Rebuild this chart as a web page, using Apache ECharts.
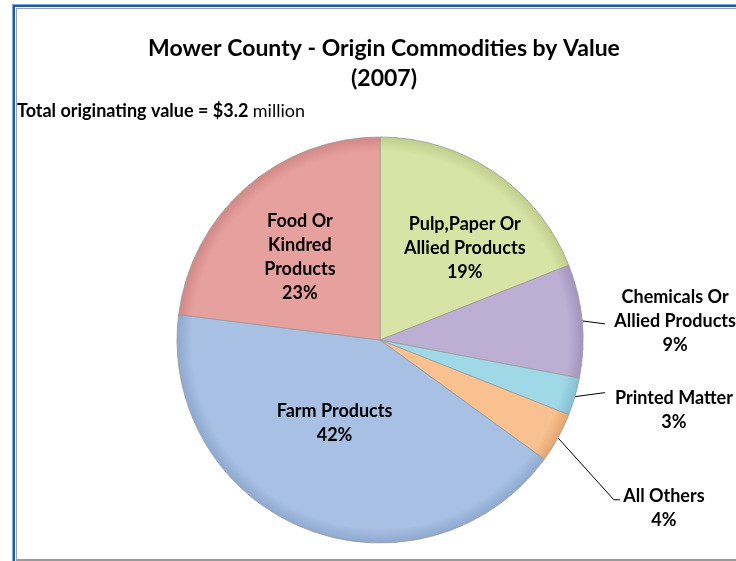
<!DOCTYPE html>
<html>
<head>
<meta charset="utf-8">
<script src="https://cdn.jsdelivr.net/npm/echarts@6/dist/echarts.min.js"></script>
<style>
  html, body { margin: 0; padding: 0; background: #ffffff; }
  #wrap { position: relative; width: 736px; height: 561px; overflow: hidden; }
  #frameOuter {
    position: absolute; left: 12px; top: 4px; width: 800px; height: 600px;
    border-left: 1px solid #7fa6d6; border-top: 1px solid #7fa6d6;
  }
  #frameBlue {
    position: absolute; left: 13px; top: 5px; width: 800px; height: 600px;
    border-left: 2px solid #1f5aa6; border-top: 2px solid #1f5aa6;
  }
  #frameInner {
    position: absolute; left: 16px; top: 8px; width: 800px; height: 550px;
    border-left: 1px solid #a0a0a0; border-top: 1px solid #a0a0a0; border-bottom: 2px solid #9a9a9a;
  }
  #chart { position: absolute; left: 0; top: 0; width: 736px; height: 561px; }
</style>
</head>
<body>
<div id="wrap">
  <div id="frameOuter"></div>
  <div id="frameBlue"></div>
  <div id="frameInner"></div>
  <div id="chart"></div>
</div>
<script>
// Commodity groups, clockwise from 12 o'clock
const categories = [
  'Pulp,Paper Or\nAllied Products',
  'Chemicals Or\nAllied Products',
  'Printed Matter',
  'All Others',
  'Farm Products',
  'Food Or\nKindred\nProducts'
];
// Share of originating value (%)
const shares = [19, 9, 3, 4, 42, 23];
const sliceColors = ['#d7e4a6', '#bdaed4', '#9fd8e7', '#f9c18f', '#a7c0e3', '#e6a19f'];
const rimColors = ['#bfcd8c', '#a394bd', '#84c1d1', '#e3a672', '#8ea8cf', '#d18886'];

const FONT = 'Lato, "Open Sans", sans-serif';
const LABEL_SIZE = 18;
const CENTER = [380, 340];
const RADIUS = 203;

// Per-label nudges and leader styling
const insideNudge = {
  'Pulp,Paper Or\nAllied Products': [26, -5],
  'Farm Products': [-7, -14],
  'Food Or\nKindred\nProducts': [-11, -4]
};
const outsideLabels = {
  'Chemicals Or\nAllied Products': { width: 130, length: 3, length2: 16 },
  'Printed Matter': { width: 126, length: 8, length2: 22 },
  'All Others': { width: 90, length: 40, length2: 6 }
};

function labelText(p) {
  const lines = p.name.split('\n').concat([Math.round(p.percent) + '%']);
  return lines.map(function (l) { return '{a|' + l + '}'; }).join('\n');
}

const data = categories.map(function (name, i) {
  const item = {
    name: name,
    value: shares[i],
    itemStyle: {
      color: {
        type: 'radial', x: CENTER[0], y: CENTER[1], r: RADIUS, global: true,
        colorStops: [
          { offset: 0, color: sliceColors[i] },
          { offset: 0.93, color: sliceColors[i] },
          { offset: 1, color: rimColors[i] }
        ]
      }
    }
  };
  const out = outsideLabels[name];
  if (out) {
    item.label = {
      position: 'outside',
      rich: { a: { width: out.width, align: 'center', fontFamily: FONT, fontWeight: 'bold', fontSize: LABEL_SIZE, lineHeight: 24, color: '#000' } }
    };
    item.labelLine = { show: true, length: out.length, length2: out.length2, lineStyle: { color: '#000', width: 1 } };
  } else {
    item.label = { position: 'inside' };
    item.labelLine = { show: false };
  }
  return item;
});

const chart = echarts.init(document.getElementById('chart'), null, { renderer: 'canvas' });
chart.setOption({
  backgroundColor: 'transparent',
  animation: false,
  title: [
    {
      text: 'Mower County - Origin Commodities by Value\n(2007)',
      left: 379, top: 29, textAlign: 'center',
      textStyle: { fontFamily: FONT, fontWeight: 'bold', fontSize: 23, lineHeight: 30, color: '#000' }
    },
    {
      text: '{b|Total originating value = $3.2 }{n|million}',
      left: 12, top: 97,
      textStyle: {
        rich: {
          b: { fontFamily: FONT, fontWeight: 'bold', fontSize: 18, color: '#000' },
          n: { fontFamily: FONT, fontWeight: 'normal', fontSize: 18, color: '#000' }
        }
      }
    }
  ],
  series: [{
    type: 'pie',
    center: CENTER,
    radius: RADIUS,
    startAngle: 90,
    clockwise: true,
    avoidLabelOverlap: false,
    itemStyle: { borderColor: '#9a9a9a', borderWidth: 0.8 },
    label: {
      show: true,
      formatter: labelText,
      color: '#000',
      rich: { a: { fontFamily: FONT, fontWeight: 'bold', fontSize: LABEL_SIZE, lineHeight: 24, color: '#000', align: 'center' } }
    },
    labelLayout: function (p) {
      const name = categories[p.dataIndex];
      const pts = p.labelLinePoints;
      if (insideNudge[name]) {
        return { dx: insideNudge[name][0], dy: insideNudge[name][1] };
      }
      if (!pts) return {};
      const p0 = pts[0], p2 = pts[pts.length - 1];
      if (name === 'All Others') {
        const bend = [p0[0] + 56, p0[1] + 62];
        const end = [bend[0] + 6, bend[1]];
        return { dx: end[0] - p2[0] - 6, dy: end[1] + 8 - p2[1], labelLinePoints: [p0, bend, end] };
      }
      if (name === 'Printed Matter') {
        const end = [p0[0] + 30, p0[1] - 4];
        return { dx: end[0] - p2[0] + 1, dy: end[1] + 18 - p2[1], labelLinePoints: [p0, end] };
      }
      // Chemicals: short, nearly level leader into the middle line
      const end = [p0[0] + 23, p0[1] + 3];
      return { dx: end[0] - p2[0], dy: end[1] - 3 - p2[1], labelLinePoints: [p0, end] };
    },
    data: data
  }]
});
</script>
</body>
</html>
